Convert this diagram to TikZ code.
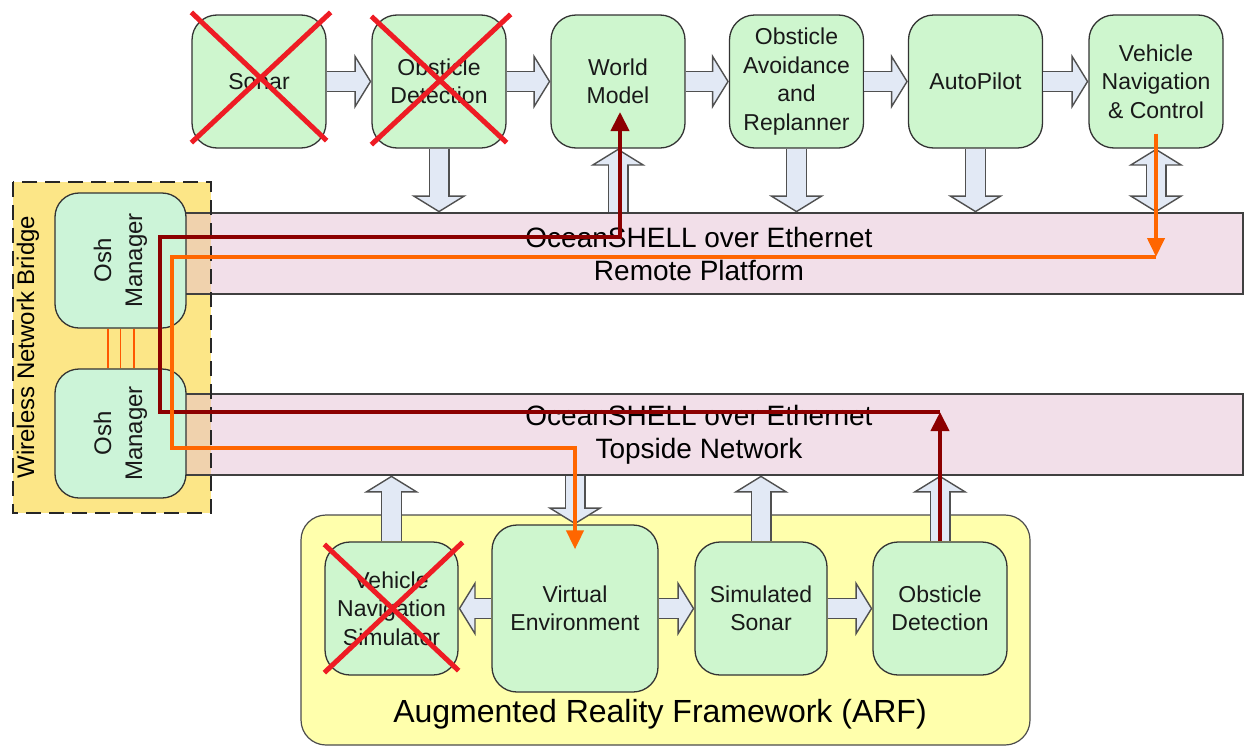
\documentclass[tikz,border=0pt]{standalone}
\usepackage{fontspec}
\setmainfont{Liberation Sans}
\usetikzlibrary{arrows.meta}

\definecolor{boxgreen}{RGB}{206,246,206}
\definecolor{oshgreen}{RGB}{204,244,216}
\definecolor{buspink}{RGB}{230,192,212}
\definecolor{bridgeyellow}{RGB}{252,230,135}
\definecolor{arfyellow}{RGB}{255,255,172}
\definecolor{blkfill}{RGB}{226,233,245}
\definecolor{blkedge}{RGB}{80,80,80}
\definecolor{pathred}{RGB}{140,0,0}
\definecolor{pathorange}{RGB}{255,102,0}
\definecolor{crossred}{RGB}{238,28,36}

\tikzset{
  blk/.style={draw=blkedge,line width=21pt,-{Triangle[length=17pt,width=55pt,line width=1.4pt,fill=blkfill]},
    postaction={draw=blkfill,line width=18.2pt,-,shorten >=15pt}},
  blkboth/.style={draw=blkedge,line width=21pt,
    {Triangle[length=17pt,width=55pt,line width=1.4pt,fill=blkfill]}-{Triangle[length=17pt,width=55pt,line width=1.4pt,fill=blkfill]},
    postaction={draw=blkfill,line width=18.2pt,-,shorten >=15pt,shorten <=15pt}},
}

\begin{document}
\begin{tikzpicture}[x=1pt,y=-1pt,
    box/.style={draw=black!80,fill=boxgreen,rounded corners=25pt,line width=1.3pt,minimum width=134pt,minimum height=133pt,align=center,text=black!90,font=\fontsize{23}{28.5}\selectfont},
    osh/.style={box,fill=oshgreen,rotate=90,rounded corners=24pt,font=\fontsize{24}{31}\selectfont},
    bus/.style={draw=black!75,line width=1.2pt,fill=buspink,fill opacity=0.5,text opacity=1,minimum width=1088pt,minimum height=81pt,align=center,font=\fontsize{28}{33}\selectfont},
    xline/.style={draw=crossred,line width=5pt},
    redpath/.style={draw=pathred,line width=4pt},
    orangepath/.style={draw=pathorange,line width=4pt},
    wireless/.style={draw=pathorange!85!red,line width=1.5pt}]
    \useasboundingbox (0,0) rectangle (1249,747);

    % bridge and frames
    \node (bridge) at (112,347.5) [fill=bridgeyellow,minimum width=198pt,minimum height=331pt]{};
    \node (arf) at (665.5,630) [draw=black!70,line width=1.2pt,fill=arfyellow,rounded corners=25pt,minimum width=729pt,minimum height=230pt]{};
    \node (arftitle) at (660,722) [anchor=base,font=\fontsize{32}{38}\selectfont]{Augmented Reality Framework (ARF)};

    % networks
    \node (remote) at (699,253.5) [bus]{OceanSHELL over Ethernet\\Remote Platform};
    \node (topside) at (699,434.5) [bus]{OceanSHELL over Ethernet\\Topside Network};

    \draw [black!85,line width=2.5pt,dash pattern=on 15pt off 8pt] (bridge.north west) rectangle (bridge.south east);
    \node (bridgetitle) at (28,347) [rotate=90,font=\fontsize{24}{28}\selectfont]{Wireless Network Bridge};

    % osh managers
    \node (oshtop) at (120.5,260.5) [osh,minimum width=135pt,minimum height=131pt]{Osh\\Manager};
    \node (oshbot) at (120.5,433.5) [osh,minimum width=129pt,minimum height=131pt]{Osh\\Manager};
    \foreach \dx in {-12.5,0,13.5}
      \draw [wireless] ([xshift=\dx pt]oshtop.west) to ([xshift=\dx pt]oshbot.east);

    % remote platform modules
    \node (sonar) at (259,81.5) [box]{Sonar};
    \node (obsdet) at (439,81.5) [box]{Obsticle\\Detection};
    \node (world) at (618,81.5) [box]{World\\Model};
    \node (obsav) at (796.5,81.5) [box]{Obsticle\\Avoidance\\and\\Replanner};
    \node (autopilot) at (975.5,81.5) [box]{AutoPilot};
    \node (vehnav) at (1156,81.5) [box]{Vehicle\\Navigation\\\& Control};

    % ARF modules
    \node (vns) at (391.5,608.5) [box,minimum width=133pt]{Vehicle\\Navigation\\Simulator};
    \node (ve) at (575,608.5) [box,minimum width=166pt,minimum height=167pt]{Virtual\\Environment};
    \node (simsonar) at (761,608.5) [box,minimum width=132pt]{Simulated\\Sonar};
    \node (obsdet2) at (940,608.5) [box]{Obsticle\\Detection};

    % block arrows
    \draw [blk] (sonar.east) to (obsdet.west);
    \draw [blk] (obsdet.east) to (world.west);
    \draw [blk] (world.east) to (obsav.west);
    \draw [blk] (obsav.east) to (autopilot.west);
    \draw [blk] (autopilot.east) to (vehnav.west);

    \draw [blk] (obsdet.south) to (obsdet.south |- remote.north);
    \draw [blk] (remote.north -| world.south) to (world.south);
    \draw [blk] (obsav.south) to (obsav.south |- remote.north);
    \draw [blk] (autopilot.south) to (autopilot.south |- remote.north);
    \draw [blkboth] (vehnav.south) to (vehnav.south |- remote.north);

    \draw [blk] (vns.north) to (vns.north |- topside.south);
    \draw [blk] (topside.south -| ve.north) to (ve.north);
    \draw [blk] (simsonar.north) to (simsonar.north |- topside.south);
    \draw [blk] (obsdet2.north) to (obsdet2.north |- topside.south);

    \draw [blk] (ve.west) to (vns.east);
    \draw [blk] (ve.east) to (simsonar.west);
    \draw [blk] (simsonar.east) to (obsdet2.west);

    % removed modules
    \draw [xline] ([yshift=2pt]sonar.north west) to ([yshift=8pt]sonar.south east);
    \draw [xline] ([xshift=4pt,yshift=2pt]sonar.north east) to ([yshift=6pt]sonar.south west);
    \draw [xline] ([yshift=-2pt]obsdet.north west) to ([yshift=6pt]obsdet.south east);
    \draw [xline] ([xshift=4pt]obsdet.north east) to ([yshift=4pt]obsdet.south west);
    \draw [xline] ([yshift=-3pt]vns.north west) to ([yshift=5pt]vns.south east);
    \draw [xline] ([xshift=4pt,yshift=-1pt]vns.north east) to ([yshift=3pt]vns.south west);

    % data paths
    \coordinate (redup) at (obsdet2.north |- 0,412);
    \coordinate (orgdown) at (vehnav.south |- 0,257);
    \draw [redpath,-{Triangle[length=19pt,width=18pt]}] (obsdet2.north) to (redup);
    \draw [redpath,-{Triangle[length=19pt,width=18pt]}] (redup) -- (160,412) -- (160,237) -- (620,237) -- (620,112);
    \draw [orangepath,-{Triangle[length=19pt,width=17pt]}] ([yshift=15pt]vehnav.south) to (orgdown);
    \draw [orangepath,-{Triangle[length=19pt,width=17pt]}] (orgdown) -- (172,257) -- (172,448) -- (ve.north |- 0,448) -- ([yshift=-25pt]ve.north);
  \end{tikzpicture}
\end{document}
